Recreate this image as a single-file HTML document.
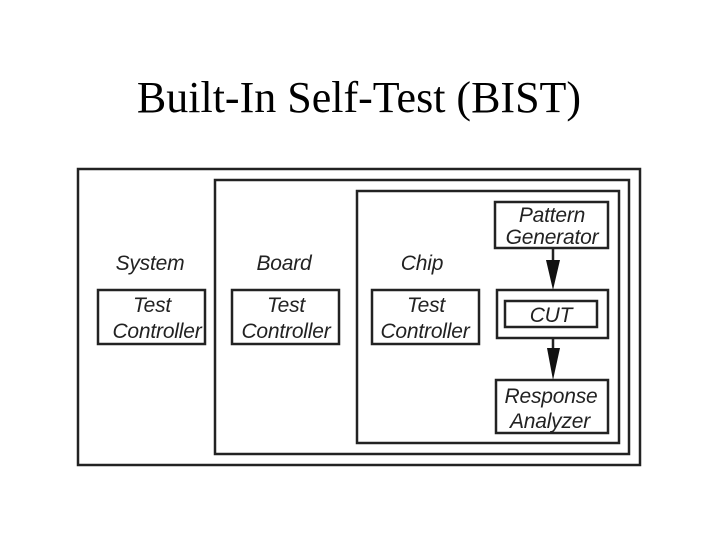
<!DOCTYPE html>
<html><head><style>html,body{margin:0;padding:0;background:#fff}</style></head>
<body>
<svg width="720" height="540" viewBox="0 0 720 540" xmlns="http://www.w3.org/2000/svg">
<text x="359" y="112" text-anchor="middle" font-family="Liberation Serif, serif" font-size="44" fill="#000">Built-In Self-Test (BIST)</text>
<g fill="none" stroke="#222" stroke-width="2.5">
<rect x="78" y="169" width="562" height="296"/>
<rect x="215" y="180" width="414" height="274"/>
<rect x="357" y="191" width="262" height="252"/>
<rect x="495" y="202" width="113" height="46"/>
<rect x="497" y="290" width="111" height="48"/>
<rect x="505" y="301" width="92" height="26"/>
<rect x="496" y="380" width="112" height="53"/>
<rect x="98" y="290" width="107" height="54"/>
<rect x="232" y="290" width="107" height="54"/>
<rect x="372" y="290" width="107" height="54"/>
<line x1="553" y1="248" x2="553" y2="262"/>
<line x1="553" y1="338" x2="553" y2="350"/>
</g>
<polygon points="546,260 560,260 553,290" fill="#111"/>
<polygon points="547,348 560,348 553,380" fill="#111"/>
<g font-family="Liberation Sans, sans-serif" font-style="italic" font-size="21" fill="#222" text-anchor="middle" letter-spacing="-0.2">
<text x="150" y="270">System</text>
<text x="284" y="270">Board</text>
<text x="422" y="270">Chip</text>
<text x="152" y="312">Test</text><text x="157" y="338">Controller</text>
<text x="286" y="312">Test</text><text x="286" y="338">Controller</text>
<text x="426" y="312">Test</text><text x="425" y="338">Controller</text>
<text x="552" y="222">Pattern</text><text x="552" y="244">Generator</text>
<text x="551" y="322">CUT</text>
<text x="551" y="403">Response</text><text x="550" y="428">Analyzer</text>
</g>
</svg>
</body></html>
